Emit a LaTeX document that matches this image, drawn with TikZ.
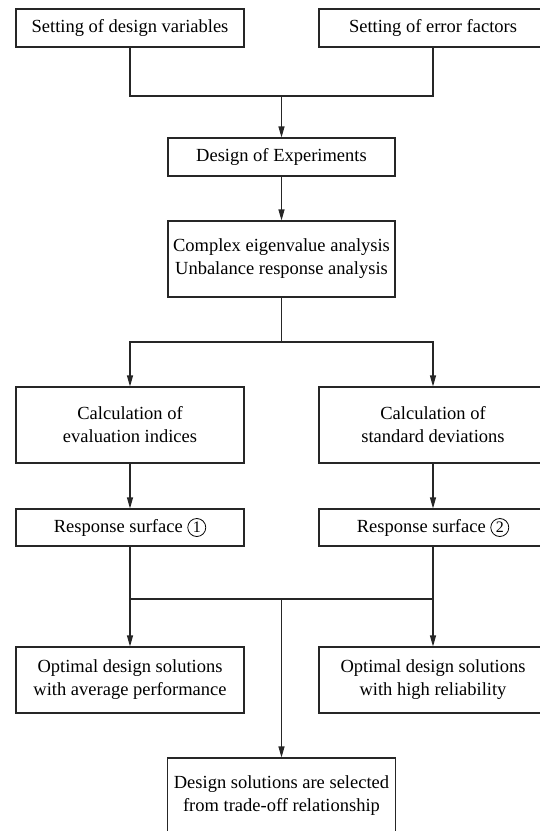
\documentclass[tikz,border=0pt]{standalone}
\usepackage{fontspec}
\setmainfont{Liberation Serif}
\usetikzlibrary{arrows.meta}
\newcommand{\circnum}[1]{\tikz[baseline=(cn.base)]\node[circle,draw,line width=0.8pt,inner sep=0pt,minimum size=18pt,font=\fontsize{16}{16}\selectfont] (cn) {#1};}
\tikzset{
  box/.style={draw=black!85,line width=1.1pt,minimum width=228pt,align=center,inner sep=0pt,
    font=\fontsize{18.5}{23}\selectfont},
  conn/.style={draw=black!85,line width=1.1pt},
  arr/.style={conn,-{Triangle[length=11pt,width=6pt]}}
}
\begin{document}
\begin{tikzpicture}[x=1pt,y=-1pt]
\clip (0,0) rectangle (540,831);
\fill[white] (0,0) rectangle (540,831);
\node[box,minimum height=38pt] (tl) at (130,28) {Setting of design variables};
\node[box,minimum height=38pt] (tr) at (433,28) {Setting of error factors};
\node[box,minimum height=38pt,minimum width=227pt] (doe) at (281.5,157) {Design of Experiments};
\node[box,minimum height=76pt,minimum width=227pt] (cplx) at (281.5,259) {Complex eigenvalue analysis\\Unbalance response analysis};
\node[box,minimum height=76pt] (cl) at (130,425) {Calculation of\\evaluation indices};
\node[box,minimum height=76pt] (cr) at (433,425) {Calculation of\\standard deviations};
\node[box,minimum height=37pt] (rl) at (130,527.5) {Response surface \circnum{1}};
\node[box,minimum height=37pt] (rr) at (433,527.5) {Response surface \circnum{2}};
\node[box,minimum height=66pt] (ol) at (130,680) {Optimal design solutions\\with average performance};
\node[box,minimum height=66pt] (or) at (433,680) {Optimal design solutions\\with high reliability};
\node[box,minimum height=76pt] (bot) at (281.5,796) {Design solutions are selected\\from trade-off relationship};
\coordinate (j1) at (281.5,96);
\coordinate (j2) at (281.5,342);
\coordinate (j3) at (281.5,599);
\draw[conn] (tl.south) -- (tl.south |- j1) -- (tr.south |- j1) -- (tr.south);
\draw[arr] (j1) -- (doe.north);
\draw[arr] (doe.south) -- (cplx.north);
\draw[conn] (cplx.south) -- (j2);
\draw[arr] (j2) -| (cl.north);
\draw[arr] (j2) -| (cr.north);
\draw[arr] (cl.south) -- (rl.north);
\draw[arr] (cr.south) -- (rr.north);
\draw[arr] (rl.south) -- (ol.north);
\draw[arr] (rr.south) -- (or.north);
\draw[conn] (rl.south |- j3) -- (rr.south |- j3);
\draw[arr] (j3) -- (bot.north);
\end{tikzpicture}
\end{document}
